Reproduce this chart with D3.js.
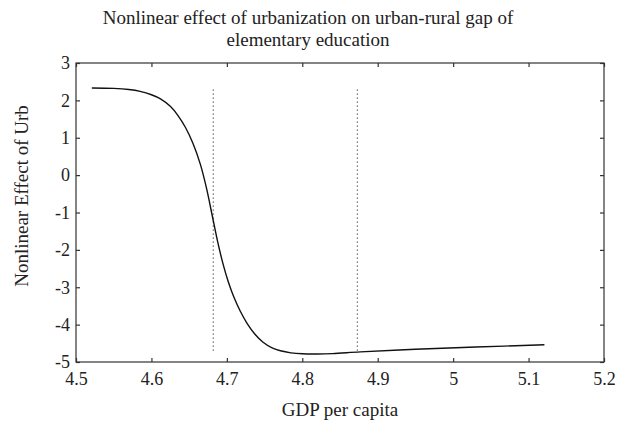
<!DOCTYPE html>
<html>
<head>
<meta charset="utf-8">
<script src="https://cdn.jsdelivr.net/npm/d3@7"></script>
<style>
  body { margin: 0; background: #fff; }
  svg text { fill: #222; }
</style>
</head>
<body>
<svg id="chart" width="628" height="425"></svg>
<script>
// curve: GDP per capita -> nonlinear effect
const gdp = [4.521, 4.55, 4.57, 4.585, 4.60, 4.612, 4.625, 4.635, 4.645, 4.655, 4.665, 4.673,
  4.681, 4.688, 4.695, 4.702, 4.709, 4.718, 4.727, 4.737, 4.748, 4.760, 4.771, 4.785, 4.800,
  4.820, 4.840, 4.877, 4.95, 5.03, 5.121];
const effect = [2.33, 2.32, 2.29, 2.24, 2.15, 2.04, 1.84, 1.60, 1.28, 0.85, 0.28, -0.35,
  -1.12, -1.80, -2.38, -2.86, -3.25, -3.65, -3.97, -4.25, -4.47, -4.62, -4.70, -4.755, -4.78,
  -4.785, -4.775, -4.73, -4.66, -4.60, -4.54];
const thresholds = [4.682, 4.873];
const thresholdSpan = [2.29, -4.72];
const xTicks = [4.5, 4.6, 4.7, 4.8, 4.9, 5, 5.1, 5.2];
const yTicks = [3, 2, 1, 0, -1, -2, -3, -4, -5];

const margin = { top: 63, right: 24, bottom: 63, left: 76 };
const width = 628, height = 425;
const svg = d3.select("#chart");
const serif = "'Liberation Serif', 'Times New Roman', serif";

const x = d3.scaleLinear().domain([4.5, 5.2]).range([margin.left, width - margin.right]);
const y = d3.scaleLinear().domain([-5, 3]).range([height - margin.bottom, margin.top]);

const tickLen = 4;

// frame
svg.append("rect")
  .attr("x", x(4.5)).attr("y", y(3))
  .attr("width", x(5.2) - x(4.5)).attr("height", y(-5) - y(3))
  .attr("fill", "none").attr("stroke", "#333").attr("stroke-width", 1.2);

function styleAxis(g) {
  g.attr("font-family", serif);
  g.select(".domain").remove();
  g.selectAll(".tick line").attr("stroke", "#333").attr("stroke-width", 1.2);
  g.selectAll("text").attr("font-size", 18);
}

svg.append("g")
  .attr("transform", `translate(0,${y(-5)})`)
  .call(d3.axisBottom(x).tickValues(xTicks).tickSize(-tickLen).tickPadding(10).tickFormat((d) => String(d)))
  .call(styleAxis);

svg.append("g")
  .attr("transform", `translate(0,${y(3)})`)
  .call(d3.axisTop(x).tickValues(xTicks).tickSize(-tickLen).tickFormat(""))
  .call(styleAxis);

svg.append("g")
  .attr("transform", `translate(${x(4.5)},0)`)
  .call(d3.axisLeft(y).tickValues(yTicks).tickSize(-tickLen).tickPadding(6).tickFormat((d) => String(d)))
  .call(styleAxis);

svg.append("g")
  .attr("transform", `translate(${x(5.2)},0)`)
  .call(d3.axisRight(y).tickValues(yTicks).tickSize(-tickLen).tickFormat(""))
  .call(styleAxis);

// threshold lines
svg.append("g")
  .selectAll("line")
  .data(thresholds)
  .join("line")
  .attr("x1", (d) => x(d)).attr("x2", (d) => x(d))
  .attr("y1", y(thresholdSpan[0])).attr("y2", y(thresholdSpan[1]))
  .attr("stroke", "#555").attr("stroke-width", 1.2)
  .attr("stroke-dasharray", "1.3,2.7");

// curve
const points = gdp.map((g, i) => [g, effect[i]]);
svg.append("path")
  .datum(points)
  .attr("fill", "none")
  .attr("stroke", "#111")
  .attr("stroke-width", 1.4)
  .attr("d", d3.line().x((d) => x(d[0])).y((d) => y(d[1])).curve(d3.curveCatmullRom.alpha(0.5)));

// titles
const title = svg.append("text")
  .attr("font-family", serif)
  .attr("text-anchor", "middle")
  .attr("font-size", 19);
title.append("tspan").attr("x", 308).attr("y", 24).text("Nonlinear effect of urbanization on urban-rural gap of");
title.append("tspan").attr("x", 308).attr("y", 46).text("elementary education");

svg.append("text")
  .attr("font-family", serif)
  .attr("x", (x(4.5) + x(5.2)) / 2)
  .attr("y", 416)
  .attr("text-anchor", "middle")
  .attr("font-size", 19)
  .text("GDP per capita");

svg.append("text")
  .attr("font-family", serif)
  .attr("transform", `translate(28,196) rotate(-90)`)
  .attr("text-anchor", "middle")
  .attr("font-size", 19)
  .text("Nonlinear Effect of Urb");
</script>
</body>
</html>
